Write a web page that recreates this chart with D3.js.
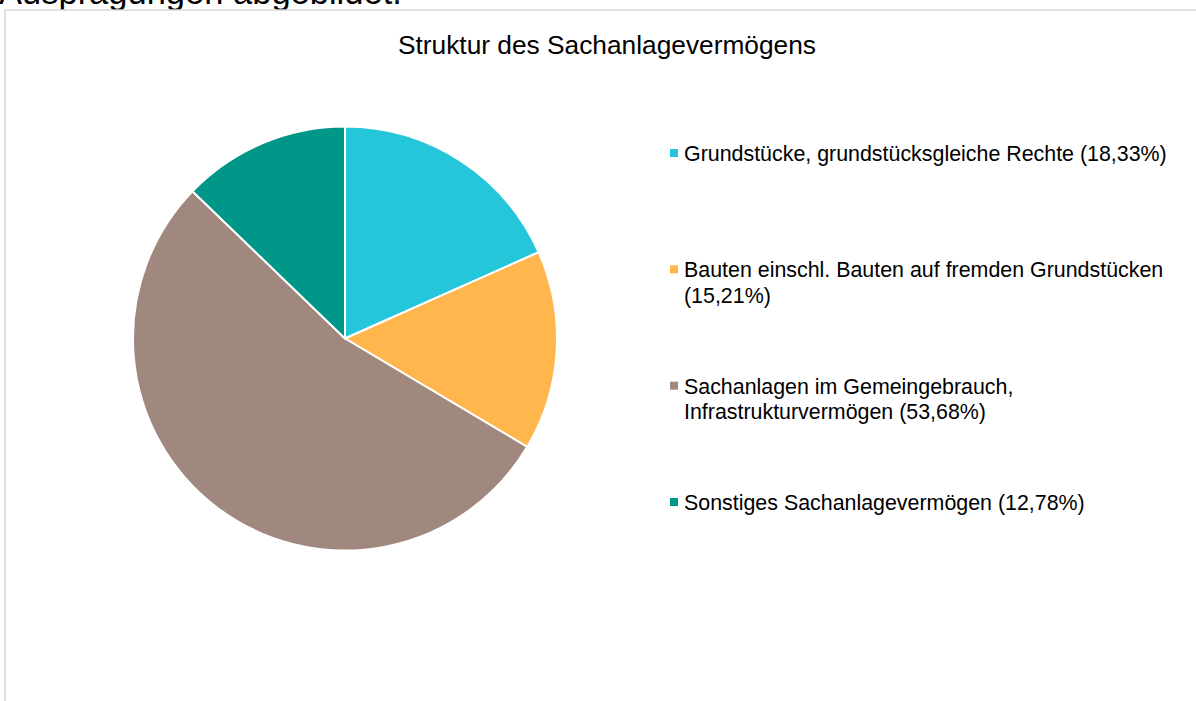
<!DOCTYPE html>
<html>
<head>
<meta charset="utf-8">
<script src="https://cdn.jsdelivr.net/npm/d3@7"></script>
<style>
  html, body { margin: 0; padding: 0; background: #fff; overflow: hidden; }
  svg { display: block; font-family: "Liberation Sans", Arial, sans-serif; }
</style>
</head>
<body>
<svg id="chart" width="1196" height="701"></svg>
<script>
const title = "Struktur des Sachanlagevermögens";
const aboveText = "Ausprägungen abgebildet.";
const categories = [
  "Grundstücke, grundstücksgleiche Rechte",
  "Bauten einschl. Bauten auf fremden Grundstücken",
  "Sachanlagen im Gemeingebrauch, Infrastrukturvermögen",
  "Sonstiges Sachanlagevermögen"
];
const values = [18.33, 15.21, 53.68, 12.78];
const legendLines = [
  ["Grundstücke, grundstücksgleiche Rechte (18,33%)"],
  ["Bauten einschl. Bauten auf fremden Grundstücken", "(15,21%)"],
  ["Sachanlagen im Gemeingebrauch,", "Infrastrukturvermögen (53,68%)"],
  ["Sonstiges Sachanlagevermögen (12,78%)"]
];
const colors = ["#26C6DA", "#FFB74D", "#A1887F", "#009688"];

const svg = d3.select("#chart");

// text above the chart frame (clipped by the window top)
svg.append("text")
  .attr("x", -1).attr("y", 4)
  .attr("font-size", 34.5)
  .attr("fill", "#000")
  .text(aboveText);

// chart frame
svg.append("rect")
  .attr("x", 5).attr("y", 10)
  .attr("width", 1300).attr("height", 800)
  .attr("fill", "#fff")
  .attr("stroke", "#d9d9d9").attr("stroke-width", 1.5);

// title
svg.append("text")
  .attr("x", 607).attr("y", 54)
  .attr("text-anchor", "middle")
  .attr("font-size", 26.3)
  .attr("fill", "#000")
  .text(title);

// pie
const cx = 345, cy = 338.5, r = 212;
const color = d3.scaleOrdinal().domain(categories).range(colors);
const pie = d3.pie().sort(null).value(d => d.v);
const arc = d3.arc().innerRadius(0).outerRadius(r);
const data = categories.map((c, i) => ({ c, v: values[i] }));

svg.append("g")
  .attr("transform", `translate(${cx},${cy})`)
  .selectAll("path")
  .data(pie(data))
  .join("path")
  .attr("d", arc)
  .attr("fill", d => color(d.data.c))
  .attr("stroke", "#fff")
  .attr("stroke-width", 2)
  .attr("stroke-linejoin", "round");

// legend
const legendY = d3.scalePoint().domain(categories).range([161, 510]);
const lg = svg.append("g");
categories.forEach((c, i) => {
  const y = legendY(c);
  lg.append("rect")
    .attr("x", 670).attr("y", y - 12)
    .attr("width", 8).attr("height", 8)
    .attr("fill", color(c));
  const t = lg.append("text")
    .attr("x", 684).attr("y", y)
    .attr("font-size", 21.4)
    .attr("fill", "#000");
  legendLines[i].forEach((line, j) => {
    t.append("tspan").attr("x", 684).attr("y", y + j * 25.5).text(line);
  });
});
</script>
</body>
</html>
